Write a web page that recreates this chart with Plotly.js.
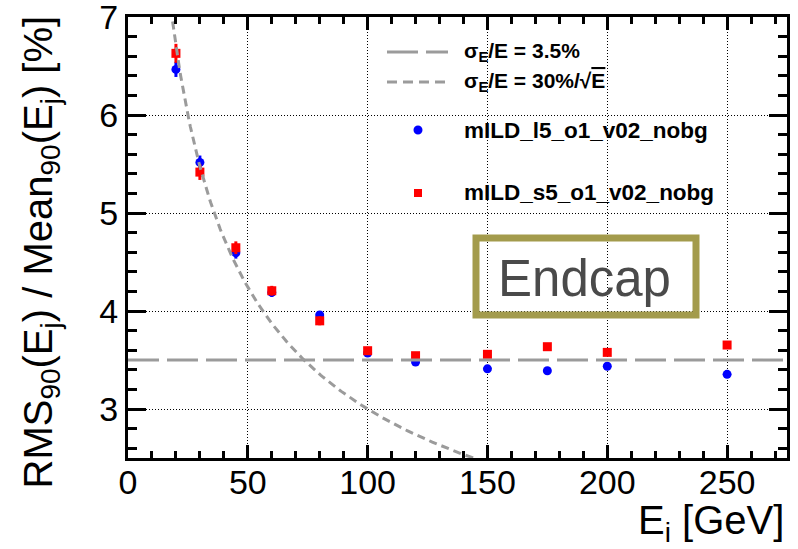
<!DOCTYPE html>
<html>
<head>
<meta charset="utf-8">
<script src="https://cdn.plot.ly/plotly-3.0.1.min.js"></script>
<style>
  html, body { margin: 0; padding: 0; background: #ffffff; }
  #chart { width: 798px; height: 549px; }
</style>
</head>
<body>
<div id="chart"></div>
<script>
// Jet energy resolution in the endcap versus jet energy, two detector models
const energy = [20, 30, 45, 60, 80, 100, 120, 150, 175, 200, 250];

const resL5 = [6.466, 5.517, 4.595, 4.19, 3.959, 3.571, 3.48, 3.41, 3.39, 3.436, 3.354];
const errL5 = [0.077, 0.07, 0.06, 0.045, 0.035, 0.02, 0.015, 0.015, 0.015, 0.015, 0.015];

const resS5 = [6.63, 5.418, 4.646, 4.207, 3.90, 3.595, 3.544, 3.558, 3.636, 3.578, 3.653];
const errS5 = [0.097, 0.08, 0.065, 0.05, 0.045, 0.02, 0.015, 0.015, 0.015, 0.015, 0.015];

const nameL5 = 'mILD_l5_o1_v02_nobg';
const nameS5 = 'mILD_s5_o1_v02_nobg';

// reference resolution terms (in %)
const constTerm = 3.5;     // sigma_E/E = 3.5%
const stochTerm = 30;      // sigma_E/E = 30%/sqrt(E)

const xRange = [0, 275];
const yRange = [2.5, 7.001];
const yTicks = [3, 4, 5, 6, 7];

// stochastic reference curve evaluated on a fine energy grid
const curveE = [];
const curveY = [];
for (let e = 15; e <= 160; e += 0.5) {
  curveE.push(e);
  curveY.push(stochTerm / Math.sqrt(e));
}

const FONT = 'Liberation Sans, Arial, Helvetica, sans-serif';
const GREY = '#9b9b9b';

const traces = [
  {
    x: energy, y: resL5, type: 'scatter', mode: 'markers', name: nameL5,
    marker: { symbol: 'circle', size: 9, color: '#0000ff' },
    error_y: { type: 'data', array: errL5, visible: true, color: '#0000ff', thickness: 3, width: 0 },
    showlegend: false
  },
  {
    x: energy, y: resS5, type: 'scatter', mode: 'markers', name: nameS5,
    marker: { symbol: 'square', size: 9, color: '#ff0000' },
    error_y: { type: 'data', array: errS5, visible: true, color: '#ff0000', thickness: 3, width: 0 },
    showlegend: false
  },
  {
    x: xRange, y: [constTerm, constTerm], type: 'scatter', mode: 'lines',
    line: { color: GREY, width: 3, dash: '31px,8px' },
    showlegend: false, hoverinfo: 'skip'
  },
  {
    x: curveE, y: curveY, type: 'scatter', mode: 'lines',
    line: { color: GREY, width: 3, dash: '8px,5px' },
    showlegend: false, hoverinfo: 'skip'
  }
];

// plot-area geometry used to place the hand-drawn legend
const W = 798, H = 549;
const M = { l: 128, r: 11, t: 17, b: 91 };
const pw = W - M.l - M.r, ph = H - M.t - M.b;
const px = (x) => (x - M.l) / pw;          // page x -> paper x
const py = (y) => (H - M.b - y) / ph;      // page y -> paper y

const legendRows = [52, 82, 130, 193];
const legendLineX = [387, 448];
const legendTextX = 462;
const legendMarkX = 418;

const shapes = [
  { type: 'line', xref: 'paper', yref: 'paper',
    x0: px(legendLineX[0]), x1: px(legendLineX[1]), y0: py(legendRows[0]), y1: py(legendRows[0]),
    line: { color: GREY, width: 3, dash: '31px,8px' } },
  { type: 'line', xref: 'paper', yref: 'paper',
    x0: px(legendLineX[0]), x1: px(legendLineX[1]), y0: py(legendRows[1]), y1: py(legendRows[1]),
    line: { color: GREY, width: 3, dash: '10px,6px' } },
  { type: 'circle', xref: 'paper', yref: 'paper',
    x0: px(legendMarkX - 4.5), x1: px(legendMarkX + 4.5), y0: py(legendRows[2] + 4.5), y1: py(legendRows[2] - 4.5),
    fillcolor: '#0000ff', line: { width: 0 } },
  { type: 'rect', xref: 'paper', yref: 'paper',
    x0: px(legendMarkX - 4), x1: px(legendMarkX + 4), y0: py(legendRows[3] + 4), y1: py(legendRows[3] - 4),
    fillcolor: '#ff0000', line: { width: 0 } },
  // detector-region label box
  { type: 'rect', xref: 'paper', yref: 'paper',
    x0: px(476), x1: px(696), y0: py(315), y1: py(238),
    line: { color: '#a39b4c', width: 7 }, fillcolor: 'rgba(0,0,0,0)' }
];

const legendFont = (size) => ({ family: FONT, size: size, color: '#000000' });

const annotations = [
  { xref: 'paper', yref: 'paper', x: px(legendTextX), y: py(legendRows[0]), xanchor: 'left', yanchor: 'middle',
    text: '<b>σ<sub>E</sub>/E = 3.5%</b>', showarrow: false, font: legendFont(21) },
  { xref: 'paper', yref: 'paper', x: px(legendTextX), y: py(legendRows[1]), xanchor: 'left', yanchor: 'middle',
    text: '<b>σ<sub>E</sub>/E = 30%/√<span style="text-decoration:overline">E</span></b>', showarrow: false, font: legendFont(21) },
  { xref: 'paper', yref: 'paper', x: px(legendTextX), y: py(legendRows[2]), xanchor: 'left', yanchor: 'middle',
    text: '<b>' + nameL5 + '</b>', showarrow: false, font: legendFont(22.5) },
  { xref: 'paper', yref: 'paper', x: px(legendTextX), y: py(legendRows[3]), xanchor: 'left', yanchor: 'middle',
    text: '<b>' + nameS5 + '</b>', showarrow: false, font: legendFont(22.5) },
  { xref: 'paper', yref: 'paper', x: px(584), y: py(278), xanchor: 'center', yanchor: 'middle',
    text: 'Endcap', showarrow: false, font: { family: FONT, size: 51, color: '#4a4a4a' } },
  // axis titles, aligned to the axis ends
  { xref: 'paper', yref: 'paper', x: px(786), y: py(523), xanchor: 'right', yanchor: 'middle',
    text: 'E<sub>i</sub> [GeV]', showarrow: false, font: { family: FONT, size: 40, color: '#000000' } },
  { xref: 'paper', yref: 'paper', x: px(40), y: py(14), xanchor: 'center', yanchor: 'top', textangle: -90,
    text: 'RMS<sub>90</sub>(E<sub>j</sub>) / Mean<sub>90</sub>(E<sub>j</sub>) [%]', showarrow: false,
    font: { family: FONT, size: 40, color: '#000000' } }
];

const axisCommon = {
  ticks: 'inside', tickwidth: 3, tickcolor: '#000000',
  showline: true, linewidth: 3, linecolor: '#000000', mirror: 'allticks',
  showgrid: true, gridcolor: '#000000', gridwidth: 1, griddash: '1px,2px',
  zeroline: false, fixedrange: true,
  tickfont: { family: FONT, size: 34, color: '#000000' }
};

const layout = {
  width: W, height: H,
  margin: M,
  paper_bgcolor: '#ffffff', plot_bgcolor: '#ffffff',
  showlegend: false,
  xaxis: Object.assign({}, axisCommon, {
    range: xRange, tick0: 0, dtick: 50, ticklen: 13, ticklabelstandoff: -8,
    minor: { dtick: 10, ticklen: 7, tickwidth: 3, tickcolor: '#000000', ticks: 'inside', showgrid: false }
  }),
  yaxis: Object.assign({}, axisCommon, {
    range: yRange, tickmode: 'array', tickvals: yTicks, ticktext: yTicks.map(String), ticklen: 18,
    ticklabeloverflow: 'allow',
    minor: { tickmode: 'linear', tick0: 0, dtick: 0.2, ticklen: 9, tickwidth: 3, tickcolor: '#000000', ticks: 'inside', showgrid: false }
  }),
  shapes: shapes,
  annotations: annotations
};

Plotly.newPlot('chart', traces, layout, { staticPlot: true, displayModeBar: false });
</script>
</body>
</html>
